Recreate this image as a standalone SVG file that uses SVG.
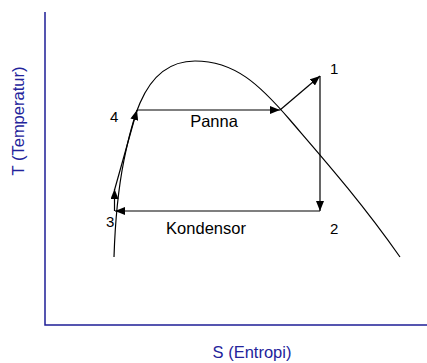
<svg xmlns="http://www.w3.org/2000/svg" width="427" height="363" viewBox="0 0 427 363">
<style>
.ln{fill:none;stroke:#000;stroke-width:1.2}
.ax{fill:none;stroke:#1e1e96;stroke-width:1.5}
.t{font-family:"Liberation Sans",Arial,sans-serif;fill:#000}
.at{font-family:"Liberation Sans",Arial,sans-serif;fill:#23239b;font-size:16.5px}
</style>
<defs>
<marker id="ah" viewBox="0 0 10 8" refX="10" refY="4" markerWidth="10" markerHeight="8" markerUnits="userSpaceOnUse" orient="auto">
<path d="M0,0 L10,4 L0,8 Z" fill="#000"/>
</marker>
</defs>
<g id="axes">
<path class="ax" d="M45,12 V325 H427"/>
<text class="at" x="252" y="358" text-anchor="middle">S (Entropi)</text>
<text class="at" transform="translate(24,121) rotate(-90)" text-anchor="middle">T (Temperatur)</text>
</g>
<g id="dome">
<path class="ln" d="M114,257 C115,225 118,190 124,160 C128,140 132,122 140,103 C152,75 170,61 195,61 C235,61 260,85 290,120 C320,155 360,200 400,257"/>
</g>
<g id="connectors">
<line class="ln" x1="137" y1="110" x2="280" y2="110" marker-end="url(#ah)"/>
<line class="ln" x1="280" y1="110" x2="320" y2="76" marker-end="url(#ah)"/>
<line class="ln" x1="320" y1="76" x2="320" y2="211" marker-end="url(#ah)"/>
<line class="ln" x1="320" y1="211" x2="115" y2="211" marker-end="url(#ah)"/>
<line class="ln" x1="114.5" y1="211" x2="114.5" y2="189" marker-end="url(#ah)"/>
<line class="ln" x1="114.5" y1="190" x2="137" y2="110" marker-end="url(#ah)"/>
</g>
<g id="n1"><text class="t" font-size="15" x="330" y="74">1</text></g>
<g id="n2"><text class="t" font-size="15" x="330" y="234">2</text></g>
<g id="n3"><text class="t" font-size="15" x="106" y="227">3</text></g>
<g id="n4"><text class="t" font-size="15" x="110" y="122">4</text></g>
<g id="panna"><text class="t" font-size="16.5" x="214" y="127" text-anchor="middle">Panna</text></g>
<g id="kondensor"><text class="t" font-size="16.5" x="206" y="234" text-anchor="middle">Kondensor</text></g>
</svg>
